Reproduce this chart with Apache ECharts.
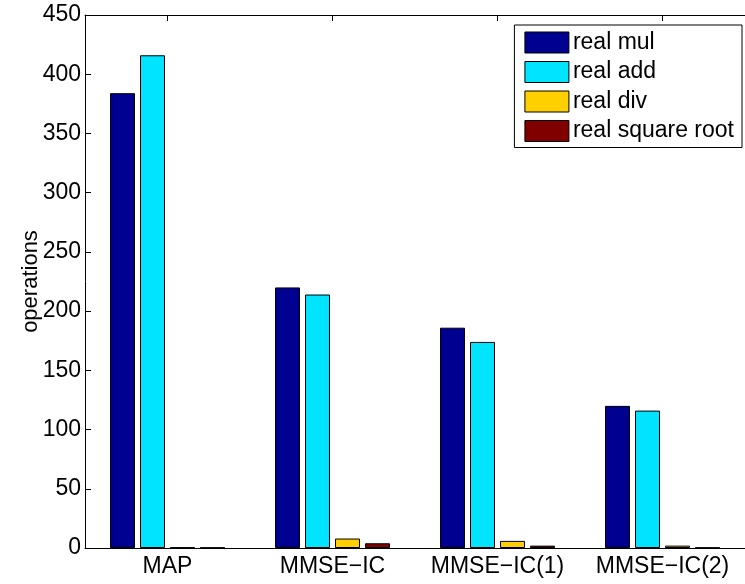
<!DOCTYPE html>
<html>
<head>
<meta charset="utf-8">
<script src="https://cdn.jsdelivr.net/npm/echarts@6/dist/echarts.min.js"></script>
<style>html,body{margin:0;padding:0;background:#fff}#c{width:745px;height:584px}</style>
</head>
<body>
<div id="c"></div>
<script>
var categories = ['MAP', 'MMSE\u2212IC', 'MMSE\u2212IC(1)', 'MMSE\u2212IC(2)'];
var realMul = [384, 220, 186, 120];
var realAdd = [416, 214, 174, 116];
var realDiv = [0.5, 8, 6, 2];
var realSqrt = [0.3, 4, 2, 0.3];
var yTicks = [0, 50, 100, 150, 200, 250, 300, 350, 400, 450];

var seriesNames = ['real mul', 'real add', 'real div', 'real square root'];
var seriesData = [realMul, realAdd, realDiv, realSqrt];
var colors = ['#000090', '#00E4FF', '#FFD000', '#800000'];
var font = 'Liberation Sans, Arial, Helvetica, sans-serif';

var chart = echarts.init(document.getElementById('c'), null, {renderer: 'canvas'});
chart.setOption({
  animation: false,
  backgroundColor: '#fff',
  grid: {left: 85, top: 15, width: 671, height: 533, containLabel: false},
  legend: {
    right: 3, top: 25,
    orient: 'vertical',
    icon: 'rect',
    itemWidth: 44, itemHeight: 21, itemGap: 6.5,
    padding: [6, 8, 5, 10],
    borderColor: '#000', borderWidth: 1,
    backgroundColor: '#fff',
    textStyle: {fontFamily: font, fontSize: 23, lineHeight: 21, color: '#000', padding: [0, 0, 0, -1]},
    data: seriesNames.map(function (n) { return {name: n, itemStyle: {borderColor: '#000', borderWidth: 1}}; })
  },
  xAxis: [{
    type: 'category', data: categories, boundaryGap: true,
    axisLine: {lineStyle: {color: '#000', width: 1}},
    axisTick: {inside: true, alignWithLabel: true, length: 6, lineStyle: {color: '#000'}},
    axisLabel: {fontFamily: font, fontSize: 23, color: '#000', margin: 7, interval: 0, hideOverlap: false}
  }, {
    type: 'category', data: categories, boundaryGap: true, position: 'top',
    axisLine: {show: true, lineStyle: {color: '#000', width: 1}},
    axisTick: {show: true, inside: true, alignWithLabel: true, length: 6, lineStyle: {color: '#000'}},
    axisLabel: {show: false}
  }],
  yAxis: {
    type: 'value', min: 0, max: 450, interval: 50,
    name: 'operations', nameLocation: 'middle', nameGap: 43, nameMoveOverlap: false,
    nameTextStyle: {fontFamily: font, fontSize: 22, color: '#000'},
    axisLine: {show: true, lineStyle: {color: '#000', width: 1}},
    axisTick: {show: true, inside: true, length: 6, lineStyle: {color: '#000'}},
    splitLine: {show: false},
    axisLabel: {fontFamily: font, fontSize: 23, color: '#000', margin: 4,
      formatter: function (v) { return yTicks.indexOf(v) >= 0 ? String(v) : ''; }}
  },
  series: seriesNames.map(function (n, i) {
    return {
      name: n, type: 'bar', data: seriesData[i],
      barWidth: 25, barGap: '20%',
      itemStyle: {color: colors[i], borderColor: '#000', borderWidth: 1}
    };
  })
});
</script>
</body>
</html>
